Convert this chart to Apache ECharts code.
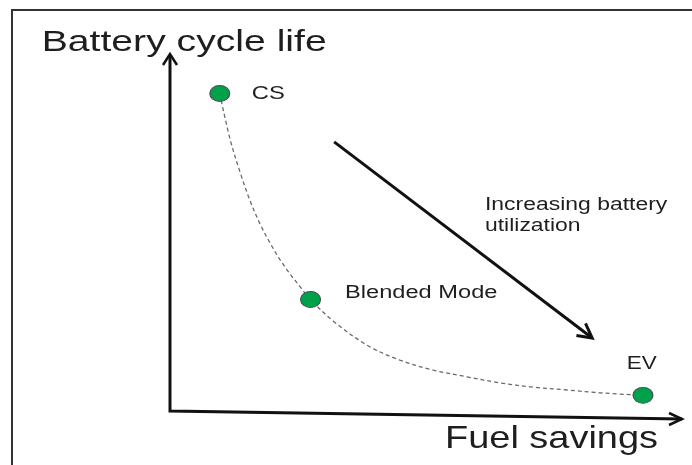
<!DOCTYPE html>
<html>
<head>
<meta charset="utf-8">
<script src="https://cdn.jsdelivr.net/npm/echarts@6/dist/echarts.min.js"></script>
<style>
html,body{margin:0;padding:0;background:#fff;}
#chart{width:692px;height:465px;}
</style>
</head>
<body>
<div id="chart"></div>
<script>
// ---- data ----
const pointNames = ['CS', 'Blended Mode', 'EV'];
const pointX = [9.7, 27.4, 92.2];
const pointY = [89.2, 31.3, 4.4];

const curveX = [9.7, 11.7, 13.7, 15.6, 17.5, 19.5, 21.4, 23.4, 25.3, 27.4, 31.8, 38.4, 44.8, 51.3, 57.9, 64.3, 70.8, 77.4, 83.8, 92.2];
const curveY = [89.2, 76.4, 66.9, 59.1, 52.7, 47.2, 42.6, 38.5, 35.0, 31.3, 25.3, 18.5, 14.3, 11.5, 9.6, 7.9, 6.7, 5.9, 5.1, 4.4];

const arrowX = [32.0, 82.3];
const arrowY = [75.6, 20.5];
const arrowText = ['Increasing battery', 'utilization'];

const yAxisTitle = 'Battery cycle life';
const xAxisTitle = 'Fuel savings';

// ---- chart ----
const FONT = '"Liberation Sans", Arial, sans-serif';
const chart = echarts.init(document.getElementById('chart'), null, {renderer: 'canvas'});

chart.setOption({
  animation: false,
  backgroundColor: '#ffffff',
  grid: {left: 170, top: 55, right: 9, bottom: 54},
  xAxis: {type: 'value', min: 0, max: 100, show: false},
  yAxis: {type: 'value', min: 0, max: 100, show: false},
  series: [
    {
      type: 'line',
      data: curveX.map((x, i) => [x, curveY[i]]),
      smooth: 0.35,
      symbol: 'none',
      lineStyle: {color: '#6a6a6a', width: 1.3, type: [4, 3]},
      z: 2
    },
    {
      type: 'scatter',
      data: pointX.map((x, i) => [x, pointY[i]]),
      symbol: 'circle',
      symbolSize: [20, 16],
      itemStyle: {color: '#00a14b', borderColor: '#4d4d4d', borderWidth: 1, opacity: 1},
      z: 3
    }
  ]
});

// annotations
const px = (x, y) => chart.convertToPixel({gridIndex: 0}, [x, y]);
const graphics = [];

// frame
graphics.push({type: 'polyline', shape: {points: [[12, 465], [12, 10], [692, 10]]},
  style: {stroke: '#333', lineWidth: 2, fill: null}, z: 10});

// axes with open arrow heads
graphics.push({type: 'polyline', shape: {points: [[170, 55], [170, 411], [682, 419]]},
  style: {stroke: '#111', lineWidth: 3, fill: null, lineJoin: 'miter'}, z: 10});
graphics.push({type: 'polyline', shape: {points: [[163, 65], [170, 54], [177, 65]]},
  style: {stroke: '#111', lineWidth: 2.5, fill: null}, z: 10});
graphics.push({type: 'polyline', shape: {points: [[669, 413], [682, 419], [669, 425]]},
  style: {stroke: '#111', lineWidth: 2.5, fill: null}, z: 10});

// trend arrow
const a0 = px(arrowX[0], arrowY[0]);
const a1 = px(arrowX[1], arrowY[1]);
const ang = Math.atan2(a1[1] - a0[1], a1[0] - a0[0]);
const L = 16, half = 28 * Math.PI / 180;
const h1 = [a1[0] - L * Math.cos(ang - half), a1[1] - L * Math.sin(ang - half)];
const h2 = [a1[0] - L * Math.cos(ang + half), a1[1] - L * Math.sin(ang + half)];
graphics.push({type: 'line', shape: {x1: a0[0], y1: a0[1], x2: a1[0], y2: a1[1]},
  style: {stroke: '#111', lineWidth: 3}, z: 10});
graphics.push({type: 'polyline', shape: {points: [h1, a1, h2]},
  style: {stroke: '#111', lineWidth: 3, fill: null}, z: 10});

function addText(text, x, y, size, sx) {
  graphics.push({type: 'text', x: x, y: y, scaleX: sx, z: 11,
    style: {text: text, fontSize: size, fontFamily: FONT, fill: '#1e1e1e',
      align: 'left', verticalAlign: 'middle'}});
}

// axis titles
addText(yAxisTitle, 41.7, 42.5, 29.5, 1.327);
addText(xAxisTitle, 445, 439.4, 30.5, 1.244);

// point labels
const labelOffsets = [[32, 0.5], [34.5, -6.5], [-16.3, -31.7]];
const labelSizes = [18, 17.5, 18];
const labelScales = [1.32, 1.35, 1.25];
pointNames.forEach((n, i) => {
  const p = px(pointX[i], pointY[i]);
  addText(n, p[0] + labelOffsets[i][0], p[1] + labelOffsets[i][1], labelSizes[i], labelScales[i]);
});

// arrow text
arrowText.forEach((t, i) => addText(t, 485, 205.6 + i * 21, 17.5, 1.31));

chart.setOption({graphic: graphics});
</script>
</body>
</html>
